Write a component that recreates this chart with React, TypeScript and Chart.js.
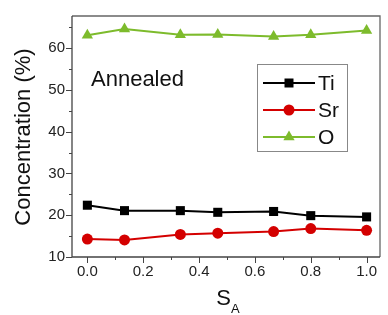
import React, { useEffect, useRef } from "react";
import { Chart, registerables } from "chart.js";

Chart.register(...registerables);

const sa = [0, 0.133, 0.333, 0.467, 0.667, 0.8, 1.0];
const ti = [22.4, 21.1, 21.1, 20.7, 20.9, 19.9, 19.6];
const sr = [14.3, 14.1, 15.4, 15.7, 16.1, 16.8, 16.4];
const ox = [63.1, 64.6, 63.2, 63.3, 62.8, 63.2, 64.2];

const xTicks = [0, 0.2, 0.4, 0.6, 0.8, 1.0];
const xMinor = [0.1, 0.3, 0.5, 0.7, 0.9];
const yTicks = [10, 20, 30, 40, 50, 60];
const yMinor = [15, 25, 35, 45, 55, 65];

const FONT = '"Liberation Sans", Arial, sans-serif';
const TI_COLOR = "#000000";
const SR_COLOR = "#d40000";
const O_COLOR = "#7dbb2c";

const legendItems = [
  { label: "Ti", color: TI_COLOR, style: "rect" },
  { label: "Sr", color: SR_COLOR, style: "circle" },
  { label: "O", color: O_COLOR, style: "triangle" },
];

function drawMarker(ctx: CanvasRenderingContext2D, style: string, x: number, y: number, color: string) {
  ctx.save();
  ctx.fillStyle = color;
  ctx.beginPath();
  if (style === "rect") {
    ctx.rect(x - 4.5, y - 4.5, 9, 9);
  } else if (style === "circle") {
    ctx.arc(x, y, 5.5, 0, Math.PI * 2);
  } else {
    const r = 6.5;
    ctx.moveTo(x, y - r);
    ctx.lineTo(x + r * 0.866, y + r * 0.5);
    ctx.lineTo(x - r * 0.866, y + r * 0.5);
    ctx.closePath();
  }
  ctx.fill();
  ctx.restore();
}

const decorPlugin = {
  id: "decor",
  afterDraw(chart: any) {
    const ctx: CanvasRenderingContext2D = chart.ctx;
    const { left, right, top, bottom } = chart.chartArea;
    const xs = chart.scales.x;
    const ys = chart.scales.y;
    ctx.save();
    // frame
    ctx.lineWidth = 1.3;
    ctx.strokeStyle = "#666";
    ctx.beginPath();
    ctx.moveTo(left, top);
    ctx.lineTo(right, top);
    ctx.lineTo(right, bottom);
    ctx.stroke();
    ctx.strokeStyle = "#444";
    ctx.beginPath();
    ctx.moveTo(left, top);
    ctx.lineTo(left, bottom);
    ctx.lineTo(right, bottom);
    ctx.stroke();
    // ticks
    ctx.lineWidth = 1;
    ctx.strokeStyle = "#444";
    ctx.beginPath();
    yTicks.forEach((v) => {
      const y = Math.round(ys.getPixelForValue(v)) + 0.5;
      ctx.moveTo(left - 6, y);
      ctx.lineTo(left, y);
    });
    yMinor.forEach((v) => {
      const y = Math.round(ys.getPixelForValue(v)) + 0.5;
      ctx.moveTo(left - 3, y);
      ctx.lineTo(left, y);
    });
    xTicks.forEach((v) => {
      const x = Math.round(xs.getPixelForValue(v)) + 0.5;
      ctx.moveTo(x, bottom);
      ctx.lineTo(x, bottom + 6);
    });
    xMinor.forEach((v) => {
      const x = Math.round(xs.getPixelForValue(v)) + 0.5;
      ctx.moveTo(x, bottom);
      ctx.lineTo(x, bottom + 3);
    });
    ctx.stroke();

    // annotation
    ctx.fillStyle = "#111";
    ctx.font = `22px ${FONT}`;
    ctx.textAlign = "left";
    ctx.textBaseline = "middle";
    ctx.fillText("Annealed", 91, 80);

    // legend
    ctx.strokeStyle = "#888";
    ctx.lineWidth = 1;
    ctx.strokeRect(257.5, 64.5, 90, 87);
    const rows = [83, 110, 137];
    legendItems.forEach((it, i) => {
      const y = rows[i];
      ctx.strokeStyle = it.color;
      ctx.lineWidth = 2;
      ctx.beginPath();
      ctx.moveTo(263, y);
      ctx.lineTo(315, y);
      ctx.stroke();
      drawMarker(ctx, it.style, 289, y, it.color);
      ctx.fillStyle = "#111";
      ctx.font = `21px ${FONT}`;
      ctx.textBaseline = "middle";
      ctx.fillText(it.label, 318, y + 1);
    });

    // y title
    ctx.save();
    ctx.translate(24, 137);
    ctx.rotate(-Math.PI / 2);
    ctx.textAlign = "center";
    ctx.textBaseline = "middle";
    ctx.fillStyle = "#111";
    ctx.font = `22px ${FONT}`;
    ctx.fillText("Concentration (%)", 0, 0);
    ctx.restore();

    // x title S_A
    ctx.fillStyle = "#111";
    ctx.textBaseline = "alphabetic";
    ctx.textAlign = "left";
    ctx.font = `22px ${FONT}`;
    const sw = ctx.measureText("S").width;
    ctx.font = `13px ${FONT}`;
    const aw = ctx.measureText("A").width;
    const cx = (left + right) / 2;
    const sx = cx - (sw + aw) / 2 + 2;
    ctx.font = `22px ${FONT}`;
    ctx.fillText("S", sx, 305);
    ctx.font = `13px ${FONT}`;
    ctx.fillText("A", sx + sw, 313);
    ctx.restore();
  },
};

export default function App() {
  const ref = useRef<HTMLCanvasElement | null>(null);
  useEffect(() => {
    document.body.style.margin = "0";
    const canvas = ref.current!;
    const mk = (label: string, data: number[], color: string, style: any, radius: number) => ({
      label,
      data: sa.map((x, i) => ({ x, y: data[i] })),
      borderColor: color,
      backgroundColor: color,
      borderWidth: 2,
      pointStyle: style,
      pointRadius: radius,
      pointBorderWidth: 0,
      pointBackgroundColor: color,
      tension: 0,
    });
    const chart = new Chart(canvas, {
      type: "line",
      data: {
        datasets: [
          mk("Ti", ti, TI_COLOR, "rect", 6.4),
          mk("Sr", sr, SR_COLOR, "circle", 5.5),
          mk("O", ox, O_COLOR, "triangle", 6.5),
        ],
      },
      options: {
        animation: false,
        responsive: false,
        devicePixelRatio: 1,
        layout: { padding: { left: 0, top: 13, right: 8, bottom: 0 } },
        plugins: { legend: { display: false }, tooltip: { enabled: false } },
        scales: {
          x: {
            type: "linear",
            min: -0.055,
            max: 1.048,
            grid: { display: false, drawTicks: false },
            border: { display: false },
            afterBuildTicks: (s: any) => {
              s.ticks = xTicks.map((v) => ({ value: v }));
            },
            afterFit: (s: any) => {
              s.height = 58;
            },
            ticks: {
              padding: 6,
              color: "#222",
              font: { family: FONT, size: 15 },
              maxRotation: 0,
              autoSkip: false,
              callback: (v: any) => Number(v).toFixed(1),
            },
          },
          y: {
            type: "linear",
            min: 10,
            max: 67.7,
            grid: { display: false, drawTicks: false },
            border: { display: false },
            afterBuildTicks: (s: any) => {
              s.ticks = yTicks.map((v) => ({ value: v }));
            },
            afterFit: (s: any) => {
              s.width = 72;
            },
            ticks: {
              padding: 7,
              color: "#222",
              font: { family: FONT, size: 15 },
              autoSkip: false,
              callback: (v: any) => String(v),
            },
          },
        },
      },
      plugins: [decorPlugin],
    });
    return () => chart.destroy();
  }, []);
  return (
    <div style={{ width: 388, height: 315, background: "#fff" }}>
      <canvas ref={ref} width={388} height={315} style={{ display: "block", width: 388, height: 315 }} />
    </div>
  );
}
